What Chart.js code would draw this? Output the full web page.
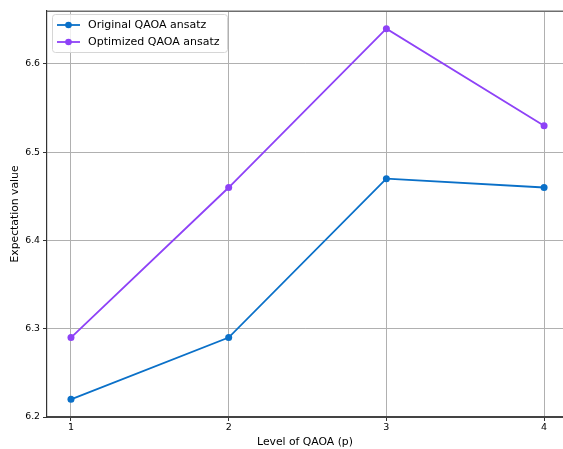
<!DOCTYPE html>
<html lang="en">
<head>
    <meta charset="UTF-8">
    <title>QAOA expectation value</title>
    <script src="https://cdn.jsdelivr.net/npm/chart.js"></script>
    <style>
        html, body { margin: 0; padding: 0; overflow: hidden; background: #fff; }
        #wrap { position: relative; width: 563px; height: 449px; }
        #chart { display: block; }
    </style>
</head>
<body>
    <div id="wrap"><canvas id="chart"></canvas></div>

    <script>
        // data
        var levels = [1, 2, 3, 4];
        var originalValues = [6.22, 6.29, 6.47, 6.46];
        var optimizedValues = [6.29, 6.46, 6.64, 6.53];
        var xTicks = [1, 2, 3, 4];
        var yTicks = [6.2, 6.3, 6.4, 6.5, 6.6];

        var blue = '#0a70c8';
        var purple = '#8e42f7';
        var font = 'DejaVu Sans';

        // legend drawn inside the plot, like matplotlib's upper-left box
        var insideLegend = {
            id: 'insideLegend',
            afterDraw: function (chart) {
                var ctx = chart.ctx;
                var a = chart.chartArea;
                var x = a.left + 5, y = a.top + 3, w = 175, h = 38;
                ctx.save();
                ctx.fillStyle = 'rgba(255,255,255,0.8)';
                ctx.strokeStyle = '#d6d6d6';
                ctx.lineWidth = 1;
                ctx.beginPath();
                ctx.roundRect(x + 0.5, y + 0.5, w, h, 3);
                ctx.fill();
                ctx.stroke();
                ctx.font = '11px "' + font + '"';
                ctx.textBaseline = 'middle';
                chart.data.datasets.forEach(function (ds, i) {
                    var ry = y + 11 + i * 17;
                    ctx.strokeStyle = ds.borderColor;
                    ctx.lineWidth = 1.8;
                    ctx.beginPath();
                    ctx.moveTo(x + 5, ry);
                    ctx.lineTo(x + 28, ry);
                    ctx.stroke();
                    ctx.fillStyle = ds.borderColor;
                    ctx.beginPath();
                    ctx.arc(x + 16.5, ry, 3.3, 0, Math.PI * 2);
                    ctx.fill();
                    ctx.fillStyle = '#000';
                    ctx.fillText(ds.label, x + 36, ry + 0.5);
                });
                ctx.restore();
            }
        };

        // top spine
        var spines = {
            id: 'spines',
            afterDraw: function (chart) {
                var ctx = chart.ctx;
                var a = chart.chartArea;
                ctx.save();
                ctx.strokeStyle = '#6e6e6e';
                ctx.lineWidth = 1.5;
                ctx.beginPath();
                ctx.moveTo(a.left, a.top + 0.25);
                ctx.lineTo(chart.width, a.top + 0.25);
                ctx.stroke();
                ctx.restore();
            }
        };

        new Chart(document.getElementById('chart'), {
            type: 'line',
            data: {
                datasets: [{
                    label: 'Original QAOA ansatz',
                    data: levels.map(function (l, i) { return { x: l, y: originalValues[i] }; }),
                    borderColor: blue,
                    backgroundColor: blue,
                    borderWidth: 1.8,
                    pointRadius: 3.5,
                    pointBorderWidth: 0,
                    tension: 0
                }, {
                    label: 'Optimized QAOA ansatz',
                    data: levels.map(function (l, i) { return { x: l, y: optimizedValues[i] }; }),
                    borderColor: purple,
                    backgroundColor: purple,
                    borderWidth: 1.8,
                    pointRadius: 3.5,
                    pointBorderWidth: 0,
                    tension: 0
                }]
            },
            options: {
                responsive: true,
                maintainAspectRatio: false,
                animation: false,
                layout: { autoPadding: false, padding: { left: 0, top: 11, right: 0, bottom: 0 } },
                plugins: {
                    legend: { display: false },
                    tooltip: { enabled: false }
                },
                scales: {
                    x: {
                        type: 'linear',
                        min: 0.848,
                        max: 4.12,
                        afterBuildTicks: function (axis) {
                            axis.ticks = xTicks.map(function (v) { return { value: v }; });
                        },
                        afterFit: function (axis) {
                            axis.height = 32;
                            axis.paddingRight = 0;
                            axis.paddingLeft = 0;
                        },
                        grid: { color: '#b0b0b0', lineWidth: 1, tickLength: 4, tickColor: '#333' },
                        border: { color: '#444', width: 2 },
                        ticks: {
                            color: '#000',
                            font: { family: font, size: 9.5 },
                            padding: 1,
                            maxRotation: 0,
                            callback: function (v) { return String(v); }
                        },
                        title: {
                            display: true,
                            text: 'Level of QAOA (p)',
                            color: '#000',
                            font: { family: font, size: 10.8 },
                            padding: 0
                        }
                    },
                    y: {
                        min: 6.2,
                        max: 6.66,
                        afterBuildTicks: function (axis) {
                            axis.ticks = yTicks.map(function (v) { return { value: v }; });
                        },
                        afterFit: function (axis) {
                            axis.width = 47;
                            axis.paddingTop = 0;
                            axis.paddingBottom = 0;
                        },
                        grid: { color: '#b0b0b0', lineWidth: 1, tickLength: 4, tickColor: '#333' },
                        border: { color: '#333', width: 1.2 },
                        ticks: {
                            color: '#000',
                            font: { family: font, size: 9.3 },
                            padding: 3,
                            callback: function (v) { return v.toFixed(1); }
                        },
                        title: {
                            display: true,
                            text: 'Expectation value',
                            color: '#000',
                            font: { family: font, size: 10.8 },
                            padding: { top: 9, bottom: 0 }
                        }
                    }
                }
            },
            plugins: [insideLegend, spines]
        });
    </script>
</body>
</html>
